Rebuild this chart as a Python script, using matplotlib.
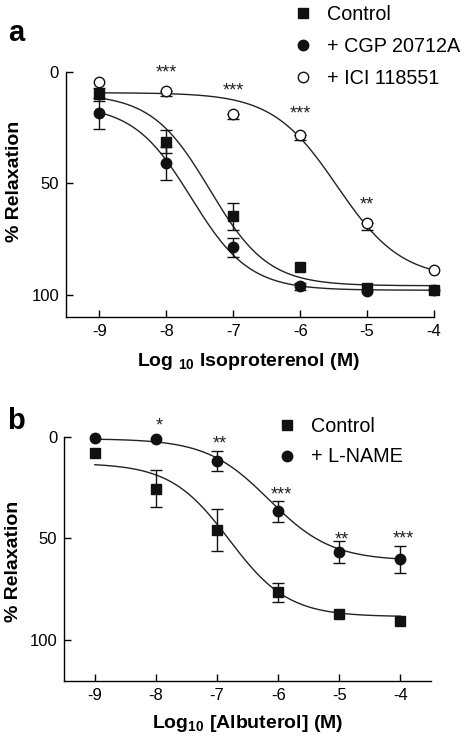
import numpy as np
import matplotlib
matplotlib.use("Agg")
import matplotlib.pyplot as plt
from matplotlib.lines import Line2D

plt.rcParams["font.family"] = ["Liberation Sans", "DejaVu Sans"]
plt.rcParams["mathtext.fontset"] = "custom"
plt.rcParams["mathtext.rm"] = "Liberation Sans"
plt.rcParams["mathtext.bf"] = "Liberation Sans:bold"
plt.rcParams["axes.unicode_minus"] = False

# log10 concentration (M)
conc = [-9, -8, -7, -6, -5, -4]
conc_labels = ["-9", "-8", "-7", "-6", "-5", "-4"]

# panel a: isoproterenol
a_control = [10.2, 31.5, 64.8, 87.5, 97.2, 97.7]
a_control_err = [3.0, 5.2, 6.1, 0, 0, 0]
a_cgp = [18.7, 41.2, 78.8, 96.2, 98.3, 97.7]
a_cgp_err = [7.0, 7.5, 4.3, 1.5, 0, 0]
a_ici = [4.6, 8.6, 19.1, 28.3, 67.8, 89.0]
a_ici_err = [0, 2.2, 2.0, 2.2, 3.0, 0]

# fitted sigmoid params: top, bottom, logEC50, hill
a_control_fit = (10, 96, -7.35, 1.0)
a_cgp_fit = (15, 98, -7.63, 1.0)
a_ici_fit = (9.5, 93, -5.45, 0.9)

a_star_x = [-8, -7, -6, -5]
a_star_y = [-1.8, 6.3, 16.5, 57.0]
a_star_txt = ["***", "***", "***", "**"]

# panel b: albuterol
b_control = [8.2, 25.7, 45.9, 76.6, 87.4, 90.5]
b_control_err = [0, 9.1, 10.4, 4.8, 0, 0]
b_lname = [0.5, 1.3, 12.0, 36.7, 56.7, 60.3]
b_lname_err = [0, 0, 4.9, 5.2, 5.2, 6.5]

b_control_fit = (13, 88.5, -6.8, 0.9)
b_lname_fit = (1, 61, -6.15, 0.85)

b_star_x = [-8, -7, -6, -5, -4]
b_star_y = [-8.2, 0.8, 25.9, 48.0, 47.5]
b_star_txt = ["*", "**", "***", "**", "***"]


def sigmoid(x, p):
    top, bottom, ec50, hill = p
    return top + (bottom - top) / (1 + 10 ** ((ec50 - x) * hill))


def errbars(ax, y, err, lower_only=False):
    x = np.array(conc, dtype=float)
    y = np.array(y, dtype=float)
    e = np.array(err, dtype=float)
    m = e > 0
    if lower_only:
        yerr = [np.zeros(m.sum()), e[m]]
    else:
        yerr = e[m]
    ax.errorbar(x[m], y[m], yerr=yerr, fmt="none", ecolor="#111111",
                elinewidth=1.0, capsize=4.5, capthick=1.0, zorder=3,
                clip_on=False)


def stars(ax, xs_, ys_, txts, dx=0):
    for x, y, t in zip(xs_, ys_, txts):
        ax.annotate(t, (x, y), xytext=(dx, -7.5), textcoords="offset points",
                    ha="center", va="baseline", fontsize=13, color="#222222",
                    annotation_clip=False)


def style(ax, xlim, ylim):
    ax.set_xlim(*xlim)
    ax.set_ylim(*ylim)
    ax.spines["top"].set_visible(False)
    ax.spines["right"].set_visible(False)
    for s in ("left", "bottom"):
        ax.spines[s].set_linewidth(1.0)
    ax.set_xticks(conc)
    ax.set_xticklabels(conc_labels)
    ax.set_yticks([0, 50, 100])
    ax.tick_params(direction="in", length=5, width=1.0, labelsize=12, pad=5)


fig = plt.figure(figsize=(4.62, 7.37), dpi=100)
axa = fig.add_axes([66 / 462, 1 - 317 / 737, 368 / 462, 245.5 / 737])
axb = fig.add_axes([64.3 / 462, 1 - 680.7 / 737, 366.7 / 462, 244 / 737])

xs = np.linspace(-9, -4, 300)

# ---- panel a
for p in (a_control_fit, a_cgp_fit, a_ici_fit):
    axa.plot(xs, sigmoid(xs, p), color="#222222", lw=1.0, zorder=2)
errbars(axa, a_control, a_control_err)
errbars(axa, a_cgp, a_cgp_err)
errbars(axa, a_ici, a_ici_err, lower_only=True)
axa.plot(conc, a_control, "s", ms=7.5, color="#111111", clip_on=False, zorder=4)
axa.plot(conc, a_cgp, "o", ms=7.5, color="#111111", clip_on=False, zorder=4)
axa.plot(conc, a_ici, "o", ms=7.5, mfc="white", mec="#111111", mew=1.0,
         clip_on=False, zorder=4)
stars(axa, a_star_x, a_star_y, a_star_txt)
style(axa, (-9.5, -4), (110, 0))
axa.set_ylabel("% Relaxation", fontsize=14, fontweight="bold")
axa.yaxis.set_label_coords(-0.117, 0.552)
axa.set_xlabel(r"Log $_{\mathbf{10}}$ Isoproterenol (M)", fontsize=14,
               fontweight="bold")
axa.xaxis.set_label_coords(0.495, -0.138)

hand_a = [Line2D([], [], ls="none", marker="s", ms=7.5, color="#111111"),
          Line2D([], [], ls="none", marker="o", ms=7.5, color="#111111"),
          Line2D([], [], ls="none", marker="o", ms=7.5, mfc="white",
                 mec="#111111", mew=1.0)]
fig.legend(hand_a, ["Control", "+ CGP 20712A", "+ ICI 118551"],
           loc="upper left", bbox_to_anchor=(293 / 462, 1 - 5 / 737),
           frameon=False, fontsize=14.2, handlelength=1.0,
           handletextpad=0.73, labelspacing=0.66, borderpad=0,
           borderaxespad=0)

fig.text(16 / 462, 1 - 33 / 737, "a", fontsize=21, fontweight="bold",
         ha="center", va="center")

# ---- panel b
for p in (b_control_fit, b_lname_fit):
    axb.plot(xs, sigmoid(xs, p), color="#222222", lw=1.0, zorder=2)
errbars(axb, b_control, b_control_err)
errbars(axb, b_lname, b_lname_err)
axb.plot(conc, b_control, "s", ms=7.5, color="#111111", clip_on=False, zorder=4)
axb.plot(conc, b_lname, "o", ms=7.5, color="#111111", clip_on=False, zorder=4)
stars(axb, b_star_x, b_star_y, b_star_txt, dx=2)
style(axb, (-9.5, -3.5), (120, 0))
axb.set_ylabel("% Relaxation", fontsize=14, fontweight="bold")
axb.yaxis.set_label_coords(-0.116, 0.488)
axb.set_xlabel(r"Log$_{\mathbf{10}}$ [Albuterol] (M)", fontsize=14,
               fontweight="bold")
axb.xaxis.set_label_coords(0.4996, -0.132)

hand_b = [Line2D([], [], ls="none", marker="s", ms=7.5, color="#111111"),
          Line2D([], [], ls="none", marker="o", ms=7.5, color="#111111")]
fig.legend(hand_b, ["Control", "+ L-NAME"],
           loc="upper left", bbox_to_anchor=(277 / 462, 1 - 417 / 737),
           frameon=False, fontsize=14.2, handlelength=1.0,
           handletextpad=0.73, labelspacing=0.58, borderpad=0,
           borderaxespad=0)

fig.text(16 / 462, 1 - 421 / 737, "b", fontsize=21, fontweight="bold",
         ha="center", va="center")

fig.savefig("out.png", dpi=100)
